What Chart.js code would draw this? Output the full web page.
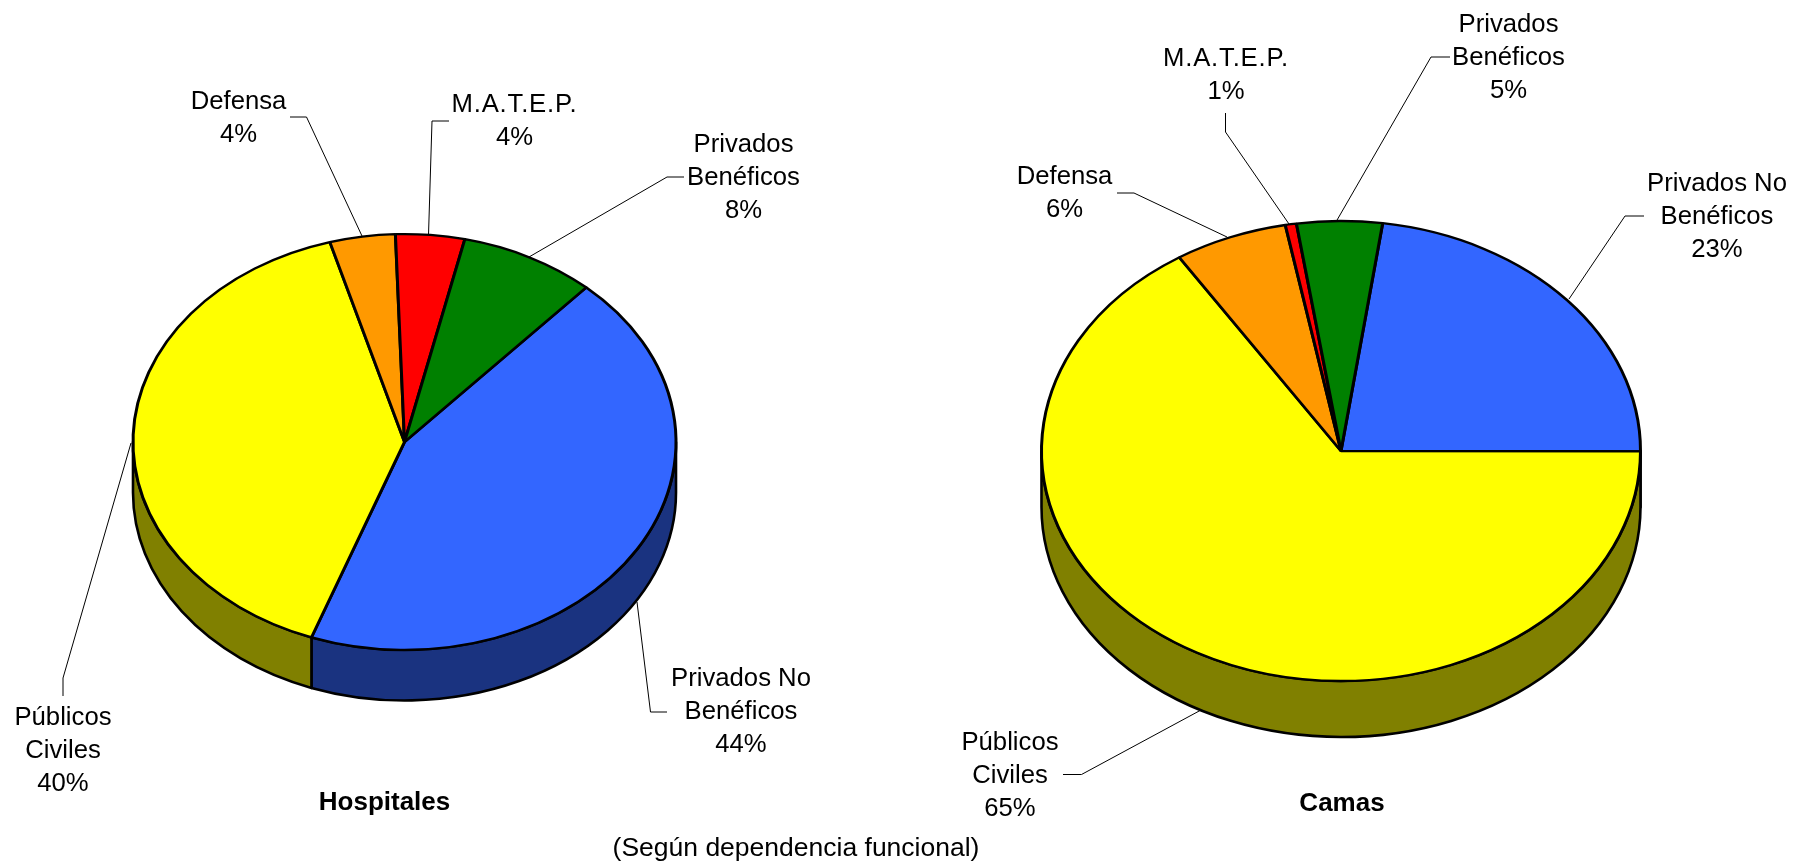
<!DOCTYPE html>
<html lang="es">
<head>
<meta charset="utf-8">
<script src="https://cdn.jsdelivr.net/npm/chart.js@4/dist/chart.umd.min.js"></script>
<style>
html,body{margin:0;padding:0;background:#fff;width:1796px;height:866px;overflow:hidden}
canvas{position:absolute;top:0}
#note{position:absolute;left:546px;width:500px;top:831px;text-align:center;font:26.5px/33px "Liberation Sans",Arial,sans-serif;color:#000;white-space:nowrap}
</style>
</head>
<body>
<canvas id="c1" width="880" height="866" style="left:0"></canvas>
<canvas id="c2" width="906" height="866" style="left:888px"></canvas>
<div id="note">(Según dependencia funcional)</div>
<script>
const categories = ["Privados No Benéficos", "Públicos Civiles", "Defensa", "M.A.T.E.P.", "Privados Benéficos"];
const hospitalesValues = [43.9, 40.0, 3.9, 4.1, 8.1];
const camasValues = [22.8, 65.9, 6.1, 0.6, 4.6];
const hospitalesPercentLabels = ["44%", "40%", "4%", "4%", "8%"];
const camasPercentLabels = ["23%", "65%", "6%", "1%", "5%"];
const topColors = ["#3366FF", "#FFFF00", "#FF9900", "#FF0000", "#008000"];
const sideColors = ["#1A3380", "#808000", "#804D00", "#800000", "#004000"];
const noteFont = '25.7px "Liberation Sans", Arial, sans-serif';
const titleFont = 'bold 26px "Liberation Sans", Arial, sans-serif';

// Label layout in page pixels: centre x, y of first line, category lines
const hospitalesLabelLayout = [
  {x: 741, y: 679, lines: ["Privados No", "Benéficos"]},
  {x: 63, y: 718, lines: ["Públicos", "Civiles"]},
  {x: 238.5, y: 102, lines: ["Defensa"]},
  {x: 514.5, y: 105, lines: ["M.A.T.E.P."], spacing: 0.8},
  {x: 743.5, y: 145, lines: ["Privados", "Benéficos"]}
];
const camasLabelLayout = [
  {x: 1717, y: 183.5, lines: ["Privados No", "Benéficos"]},
  {x: 1010, y: 742.5, lines: ["Públicos", "Civiles"]},
  {x: 1064.5, y: 177, lines: ["Defensa"]},
  {x: 1226, y: 59, lines: ["M.A.T.E.P."], spacing: 0.8},
  {x: 1508.5, y: 24.5, lines: ["Privados", "Benéficos"]}
];
// Leader polylines in page pixels
const hospitalesLeaders = [
  [[667,712],[650.5,712],[637,602]],
  [[63,696],[63,678],[131,443]],
  [[290,117],[306.5,117],[362,236]],
  [[449,121],[432,121],[428.5,235]],
  [[684,177],[667,177],[529,257]]
];
const camasLeaders = [
  [[1644,216],[1625,216],[1569,299]],
  [[1063,774.5],[1081.5,774.5],[1201,710]],
  [[1117,193],[1134,193],[1227,237]],
  [[1225.5,113],[1225.5,132],[1289,224]],
  [[1450,57],[1431,57],[1336.5,221]]
];

function pie3d(cfg) {
  const squash = {
    id: "squash3d",
    beforeDatasetsDraw(chart) {
      const ctx = chart.ctx;
      const arcs = chart.getDatasetMeta(0).data;
      const cx = arcs[0].x, cy = arcs[0].y, r = arcs[0].outerRadius;
      const ry = r * cfg.tilt;
      // leader lines
      ctx.save();
      ctx.strokeStyle = "#000";
      ctx.lineWidth = 1;
      cfg.leaders.forEach(pts => {
        ctx.beginPath();
        pts.forEach((p, i) => i ? ctx.lineTo(p[0] - cfg.left, p[1]) : ctx.moveTo(p[0] - cfg.left, p[1]));
        ctx.stroke();
      });
      ctx.restore();
      // cylinder wall: front half of every slice, from the library's arc angles
      ctx.save();
      ctx.strokeStyle = "#000";
      ctx.lineWidth = 2.6;
      ctx.lineJoin = "round";
      arcs.forEach((el, i) => {
        [-2 * Math.PI, 0, 2 * Math.PI].forEach(shift => {
          const a = Math.max(el.startAngle + shift, 0);
          const b = Math.min(el.endAngle + shift, Math.PI);
          if (a >= b) return;
          ctx.beginPath();
          ctx.ellipse(cx, cy, r, ry, 0, a, b);
          ctx.ellipse(cx, cy + cfg.depth, r, ry, 0, b, a, true);
          ctx.closePath();
          ctx.fillStyle = sideColors[i];
          ctx.fill();
          ctx.stroke();
        });
      });
      ctx.restore();
      // top face: library arcs drawn through a vertical squash
      ctx.save();
      ctx.translate(cx, cy);
      ctx.scale(1, cfg.tilt);
      ctx.translate(-cx, -cy);
    },
    afterDatasetsDraw(chart) {
      chart.ctx.restore();
      const ctx = chart.ctx;
      ctx.save();
      ctx.fillStyle = "#000";
      ctx.textAlign = "center";
      ctx.textBaseline = "middle";
      ctx.font = noteFont;
      cfg.layout.forEach((lab, i) => {
        lab.lines.concat(cfg.percents[i]).forEach((t, j) => {
          ctx.letterSpacing = (j < lab.lines.length && lab.spacing) ? lab.spacing + "px" : "0px";
          ctx.fillText(t, lab.x - cfg.left, lab.y + j * 33);
        });
      });
      ctx.letterSpacing = "0px";
      ctx.font = titleFont;
      ctx.fillText(cfg.title, cfg.titleX - cfg.left, cfg.titleY);
      ctx.restore();
    }
  };
  return new Chart(document.getElementById(cfg.id), {
    type: "pie",
    data: {
      labels: categories,
      datasets: [{
        data: cfg.values,
        backgroundColor: topColors,
        borderColor: "#000",
        borderWidth: 3
      }]
    },
    options: {
      responsive: false,
      animation: false,
      rotation: cfg.rotation,
      radius: cfg.radius,
      layout: {padding: {top: cfg.paddingTop, right: cfg.paddingRight}},
      plugins: {legend: {display: false}, tooltip: {enabled: false}, title: {display: false}}
    },
    plugins: [squash]
  });
}

pie3d({id: "c1", left: 0, values: hospitalesValues, percents: hospitalesPercentLabels,
  layout: hospitalesLabelLayout, leaders: hospitalesLeaders, rotation: 42, radius: 271.5,
  tilt: 0.766, depth: 50.5, paddingTop: 18, paddingRight: 71, title: "Hospitales", titleX: 384.5, titleY: 803});
pie3d({id: "c2", left: 888, values: camasValues, percents: camasPercentLabels,
  layout: camasLabelLayout, leaders: camasLeaders, rotation: 8, radius: 299.5,
  tilt: 0.768, depth: 56, paddingTop: 36, paddingRight: 0, title: "Camas", titleX: 1342, titleY: 804});
</script>
</body>
</html>
